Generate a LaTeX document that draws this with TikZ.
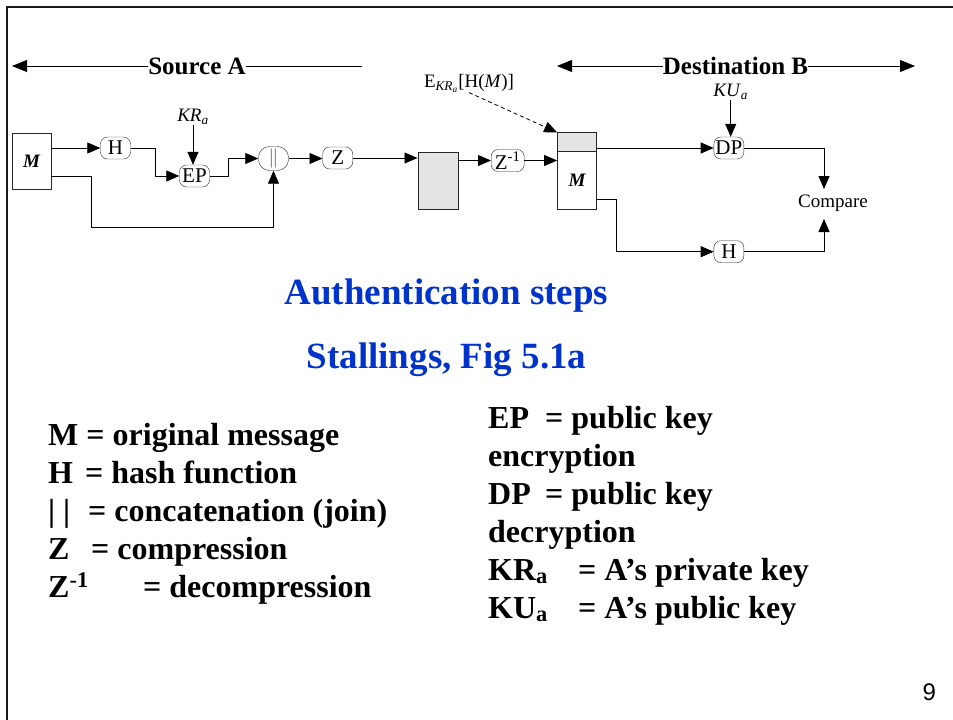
\documentclass[tikz,border=0pt]{standalone}
\usepackage{fontspec}
\setmainfont{Liberation Serif}
\newfontfamily\pagefont{Liberation Sans}
\usetikzlibrary{arrows.meta}

\definecolor{slideblue}{RGB}{0,51,204}
\definecolor{boxgray}{RGB}{228,228,228}

\begin{document}
\begin{tikzpicture}[x=1pt,y=1pt,yscale=-1,xscale=1,
    fn/.style={draw=black!85, rounded corners=7pt, minimum width=30pt, minimum height=22pt, inner sep=1pt, font=\fontsize{21}{22}\selectfont},
    blk/.style={draw=black!85, inner sep=0pt, font=\fontsize{19}{21}\selectfont\bfseries\itshape},
    flow/.style={-{Triangle[length=13pt,width=11pt]}, line width=0.8pt},
    spanarrow/.style={-{Triangle[length=15pt,width=12pt]}, line width=0.8pt},
    lbl/.style={inner sep=0pt, font=\fontsize{19}{21}\selectfont},
    sidelabel/.style={inner sep=0pt, font=\fontsize{25}{28}\selectfont\bfseries},
    keyline/.style={anchor=base west, inner sep=0pt, font=\fontsize{32}{38}\selectfont\bfseries},
    headline/.style={anchor=base, inner sep=0pt, text=slideblue, font=\fontsize{37}{42}\selectfont\bfseries}]
  \useasboundingbox (0,0) rectangle (953,720);

  % slide frame
  \draw[line width=2.5pt, draw=black!90] (953,7) -- (7,7) -- (7,720);

  % sides of the exchange
  \node[sidelabel] (srcA) at (197,66) {Source A};
  \coordinate (srcL) at (12,66);
  \coordinate (srcR) at (362,66);
  \draw[spanarrow] (srcA) -- (srcL);
  \draw[line width=0.8pt] (srcA) -- (srcR);
  \node[sidelabel] (dstB) at (735.5,66) {Destination B};
  \coordinate (dstL) at (557,66);
  \coordinate (dstR) at (915,66);
  \draw[spanarrow] (dstB) -- (dstL);
  \draw[spanarrow] (dstB) -- (dstR);

  % sender
  \node[blk, minimum width=39pt, minimum height=56.6pt] (msgA) at (31.5,161) {M};
  \node[fn] (hashA) at (115.5,148) {H};
  \node[fn] (encP) at (194.5,176) {EP};
  \node[lbl] (kra) at (193,117) {\textit{KR}\textsubscript{\textit{a}}};
  \node[fn, rounded corners=11pt, minimum height=24pt] (concat) at (273.5,158.5) {\textcolor{gray}{||}};
  \node[fn] (zip) at (337.7,158) {Z};
  \coordinate (loopA) at (91.7,227);

  % in transit
  \node[blk, fill=boxgray, minimum width=40pt, minimum height=57.6pt] (packet) at (437.7,180.5) {};

  % receiver
  \node[fn, minimum width=33pt] (unzip) at (507.7,160.5) {Z\textsuperscript{-1}};
  \node[blk, fill=boxgray, minimum width=39.3pt, minimum height=18.3pt] (sigB) at (577,141.8) {};
  \node[blk, minimum width=39.3pt, minimum height=58.3pt] (msgB) at (577,180.2) {M};
  \node[lbl] (sigtxt) at (469,83.3) {E\textsubscript{\textit{KR}\textsubscript{\textit{a}}}[H(\textit{M})]};
  \node[fn] (decP) at (728.9,148) {DP};
  \node[lbl] (kua) at (730.7,92) {\textit{KU}\textsubscript{\textit{a}}};
  \node[fn] (hashB) at (728.9,251.7) {H};
  \node[lbl] (cmp) at (833,203.3) {Compare};
  \coordinate (cmpTop) at (824,189);
  \coordinate (cmpBot) at (824,219);

  % connectors
  \draw[flow] (hashA -| msgA.east) -- (hashA.west);
  \draw[flow] (hashA.east) -- ++(25,0) |- (encP.west);
  \draw[flow] (kra.south) -- (kra.south |- encP.north);
  \draw[flow] (encP.east) -- ++(19,0) |- (concat.west);
  \draw[flow] (encP -| msgA.east) -| (loopA) -| (concat.south);
  \draw[flow] (concat.east) -- (concat.east -| zip.west);
  \draw[flow] (zip.east) -- (zip.east -| packet.west);
  \draw[flow] (unzip -| packet.east) -- (unzip.west);
  \draw[flow] (unzip.east) -- (unzip.east -| msgB.west);
  \draw[flow, dash pattern=on 4pt off 3pt] (sigtxt.south) -- (sigB.north west);
  \draw[flow] (decP -| sigB.east) -- (decP.west);
  \draw[flow] (kua.south) -- (kua.south |- decP.north);
  \draw[flow] (msgB.south east) ++(0,-10) -- ++(20,0) |- (hashB.west);
  \draw[flow] (decP.east) -| (cmpTop);
  \draw[flow] (hashB.east) -| (cmpBot);

  % titles
  \node[headline] (hd1) at (446.5,304) {Authentication steps};
  \node[headline] (hd2) at (446.5,368) {Stallings, Fig 5.1a};

  % legend, left column
  \node[keyline] (kM) at (48,445) {M = original message};
  \node[keyline] (kH) at (48,483) {\makebox[37pt][l]{H}= hash function};
  \node[keyline] (kCat) at (48,521) {\makebox[40pt][l]{| |}= concatenation (join)};
  \node[keyline] (kZ) at (48,559) {\makebox[43pt][l]{Z}= compression};
  \node[keyline] (kZi) at (48,597) {\makebox[95pt][l]{Z\textsuperscript{-1}}= decompression};

  % legend, right column
  \node[keyline] (kEP) at (488,428) {\makebox[57pt][l]{EP}= public key};
  \node[keyline] (kEnc) at (488,466) {encryption};
  \node[keyline] (kDP) at (488,504) {\makebox[57pt][l]{DP}= public key};
  \node[keyline] (kDec) at (488,542) {decryption};
  \node[keyline] (kKR) at (488,580) {\makebox[90pt][l]{KR\textsubscript{a}}= A’s private key};
  \node[keyline] (kKU) at (488,618) {\makebox[90pt][l]{KU\textsubscript{a}}= A’s public key};

  % page number
  \node[inner sep=0pt, font=\pagefont\fontsize{24}{26}\selectfont] (pg) at (929.3,692.3) {9};
\end{tikzpicture}
\end{document}
